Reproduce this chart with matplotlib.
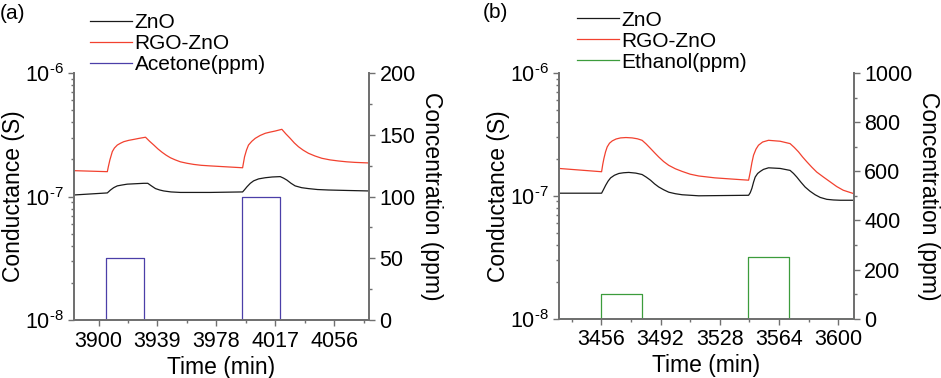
import numpy as np
import matplotlib
matplotlib.use("Agg")
import matplotlib.pyplot as plt
from matplotlib.ticker import MultipleLocator, LogLocator, NullFormatter, FuncFormatter

plt.rcParams['font.family'] = ['Liberation Sans', 'DejaVu Sans']
plt.rcParams['mathtext.fontset'] = 'custom'
plt.rcParams['mathtext.rm'] = 'Liberation Sans'
plt.rcParams['axes.unicode_minus'] = False

# ---- panel (a): acetone ----
t_zno_a = [3883.7, 3905.8, 3907.9, 3910.0, 3912.4, 3915.5, 3919.0, 3929.9, 3932.6, 3935.0,
           3937.7, 3940.5, 3943.2, 3948.0, 3954.2, 3974.0, 3995.4, 3996.8, 3998.3, 4000.5,
           4002.7, 4006.0, 4010.4, 4015.0, 4020.3, 4022.5, 4024.7, 4027.5, 4030.2, 4034.5,
           4039.0, 4045.0, 4052.2, 4065.0, 4079.1]
g_zno_a = [1.03, 1.07, 1.13, 1.18, 1.22, 1.24, 1.26, 1.28, 1.28, 1.22,
           1.16, 1.13, 1.11, 1.09, 1.08, 1.08, 1.09, 1.14, 1.20, 1.28,
           1.34, 1.39, 1.42, 1.44, 1.45, 1.41, 1.36, 1.28, 1.22, 1.18,
           1.16, 1.14, 1.13, 1.12, 1.11]
t_rgo_a = [3883.7, 3905.8, 3906.5, 3907.5, 3909.1, 3910.5, 3912.4, 3914.5, 3916.7, 3920.0,
           3923.3, 3927.0, 3931.1, 3933.8, 3936.6, 3939.3, 3942.1, 3944.8, 3947.6, 3950.8,
           3954.2, 3958.5, 3963.0, 3968.0, 3974.0, 3995.4, 3996.0, 3996.7, 3998.0, 3999.3,
           4001.5, 4003.8, 4007.0, 4010.4, 4013.5, 4017.0, 4021.4, 4024.0, 4026.9, 4029.6,
           4032.4, 4035.6, 4039.0, 4043.3, 4047.9, 4053.3, 4058.9, 4064.4, 4069.9, 4079.1]
g_rgo_a = [1.62, 1.59, 1.75, 1.98, 2.31, 2.47, 2.61, 2.70, 2.78, 2.85,
           2.90, 2.96, 3.02, 2.80, 2.61, 2.43, 2.28, 2.16, 2.06, 1.98,
           1.91, 1.86, 1.82, 1.79, 1.77, 1.71, 1.88, 2.10, 2.38, 2.61,
           2.80, 2.96, 3.12, 3.25, 3.32, 3.39, 3.50, 3.22, 2.96, 2.72,
           2.53, 2.37, 2.24, 2.13, 2.04, 1.98, 1.94, 1.91, 1.89, 1.87]
t_gas_a = [3883.7, 3904.8, 3930.0, 3995.2, 4019.9, 4079.1]
c_gas_a = [0, 50, 0, 100, 0, 0]

# ---- panel (b): ethanol ----
t_zno_b = [3430.3, 3456.2, 3457.3, 3458.7, 3460.2, 3461.7, 3464.0, 3466.7, 3469.5, 3472.7,
           3477.0, 3480.8, 3483.3, 3485.9, 3488.4, 3490.9, 3493.9, 3497.0, 3501.0, 3505.1,
           3515.2, 3545.5, 3546.5, 3547.5, 3548.5, 3549.5, 3551.0, 3552.6, 3554.5, 3557.6,
           3564.7, 3570.7, 3572.8, 3574.8, 3577.3, 3579.8, 3582.8, 3585.9, 3589.0, 3593.0,
           3597.0, 3601.1, 3609.5]
g_zno_b = [1.05, 1.05, 1.12, 1.22, 1.32, 1.40, 1.47, 1.52, 1.54, 1.55,
           1.53, 1.49, 1.42, 1.34, 1.25, 1.18, 1.12, 1.07, 1.04, 1.02,
           1.00, 1.01, 1.06, 1.15, 1.29, 1.42, 1.52, 1.58, 1.64, 1.69,
           1.67, 1.61, 1.52, 1.42, 1.29, 1.18, 1.09, 1.02, 0.97, 0.936,
           0.925, 0.92, 0.92]
t_rgo_b = [3430.3, 3456.2, 3456.9, 3457.6, 3458.6, 3459.6, 3461.0, 3462.7, 3465.0, 3467.7,
           3471.0, 3474.8, 3478.0, 3480.8, 3483.3, 3485.9, 3488.4, 3490.9, 3493.9, 3497.0,
           3501.0, 3505.1, 3510.0, 3515.2, 3525.0, 3535.0, 3545.5, 3546.5, 3547.5, 3548.5,
           3550.0, 3551.5, 3554.0, 3557.6, 3564.7, 3570.7, 3573.2, 3575.8, 3578.3, 3580.9,
           3583.9, 3586.9, 3591.0, 3595.0, 3599.0, 3603.0, 3609.5]
g_rgo_b = [1.67, 1.57, 1.80, 2.01, 2.28, 2.50, 2.68, 2.80, 2.90, 2.96,
           2.98, 2.96, 2.91, 2.83, 2.64, 2.43, 2.24, 2.07, 1.90, 1.77,
           1.66, 1.58, 1.50, 1.45, 1.40, 1.37, 1.34, 1.56, 1.86, 2.14,
           2.40, 2.58, 2.74, 2.83, 2.78, 2.66, 2.48, 2.28, 2.07, 1.89,
           1.71, 1.56, 1.42, 1.30, 1.19, 1.11, 1.04]
t_gas_b = [3430.3, 3456.0, 3480.6, 3545.0, 3570.0, 3609.5]
c_gas_b = [0, 100, 0, 250, 0, 0]

axis_gray = '#707070'
red = '#f2412f'


def log_label(v, pos):
    return r'$10^{\text{-}%d}$' % round(-np.log10(v))


def panel(pos, t1, g1, t2, g2, tg, cg, gas_label, gas_color, xlim, xmajor, xminor,
          cmax, cmajor, cminor, letter, letter_xy, leg_anchor):
    ax = fig.add_axes(pos)
    l1, = ax.plot(t1, np.array(g1) * 1e-7, color='#1a1a1a', lw=0.9, label='ZnO')
    l2, = ax.plot(t2, np.array(g2) * 1e-7, color=red, lw=0.9, label='RGO-ZnO')
    ax.set_yscale('log')
    ax.set_ylim(1e-8, 1e-6)
    ax.set_xlim(*xlim)
    ax.xaxis.set_major_locator(MultipleLocator(xmajor))
    ax.xaxis.set_minor_locator(MultipleLocator(xminor))
    ax.yaxis.set_major_locator(LogLocator(base=10, numticks=5))
    ax.yaxis.set_major_formatter(FuncFormatter(log_label))
    ax.yaxis.set_minor_locator(LogLocator(base=10, subs=np.arange(2, 10), numticks=20))
    ax.yaxis.set_minor_formatter(NullFormatter())
    ax.set_xlabel('Time (min)', fontsize=16.5, labelpad=3)
    ax.set_ylabel('Conductance (S)', fontsize=16.5, labelpad=0)

    ax2 = ax.twinx()
    l3, = ax2.step(tg, cg, where='post', color=gas_color, lw=0.9, label=gas_label)
    ax2.set_ylim(0, cmax)
    ax2.yaxis.set_major_locator(MultipleLocator(cmajor))
    ax2.yaxis.set_minor_locator(MultipleLocator(cminor))
    ax2.set_ylabel('Concentration (ppm)', fontsize=16.5, rotation=270, labelpad=20)

    for a in (ax, ax2):
        for s in a.spines.values():
            s.set_color(axis_gray)
            s.set_linewidth(1.3)
        a.spines['top'].set_visible(False)
        a.tick_params(which='both', direction='out', colors=axis_gray, labelcolor='black',
                      labelsize=15.5, width=1.0)
        a.tick_params(which='major', length=4)
        a.tick_params(which='minor', length=2.5)

    ax.legend(handles=[l1, l2, l3], loc='lower left', bbox_to_anchor=leg_anchor,
              frameon=False, fontsize=15, handlelength=2.0, handletextpad=0.15,
              labelspacing=0.1, borderaxespad=0, borderpad=0)
    fig.text(letter_xy[0], letter_xy[1], letter, fontsize=15, ha='left', va='center')
    return ax


fig = plt.figure(figsize=(9.41, 3.78), dpi=100)

panel([0.0786, 0.153, 0.3135, 0.654], t_zno_a, g_zno_a, t_rgo_a, g_rgo_a,
      t_gas_a, c_gas_a, 'Acetone(ppm)', '#4b3fa8', (3883.7, 4079.1), 39, 19.5,
      200, 50, 25, '(a)', (0.0, 0.963), (0.054, 0.995))
panel([0.594, 0.157, 0.3135, 0.650], t_zno_b, g_zno_b, t_rgo_b, g_rgo_b,
      t_gas_b, c_gas_b, 'Ethanol(ppm)', '#3c9c3c', (3430.3, 3609.5), 36, 18,
      1000, 200, 100, '(b)', (0.513, 0.968), (0.061, 1.005))

plt.savefig('out.png', dpi=100)
